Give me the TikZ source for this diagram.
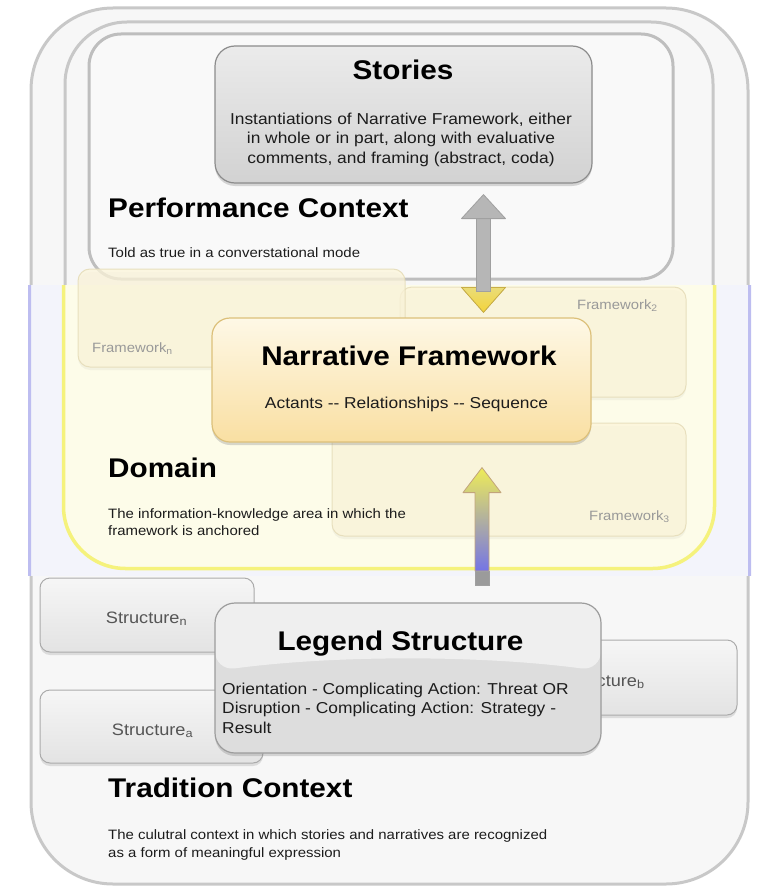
\documentclass[tikz,border=0pt]{standalone}
\usepackage{fontspec}
\setmainfont[FakeStretch=1.1]{Liberation Sans}
\usetikzlibrary{calc,shadows}
\definecolor{outerline}{HTML}{C8C8C8}
\definecolor{outerfill}{HTML}{F7F7F7}
\definecolor{bandtint}{HTML}{F3F4FB}
\definecolor{lavband}{HTML}{BDBDF0}
\definecolor{domline}{HTML}{F5F27C}
\definecolor{domfill}{HTML}{FDFCE9}
\definecolor{perfline}{HTML}{BEBEBE}
\definecolor{perffill}{HTML}{F9F9F9}
\definecolor{fwline}{HTML}{E6DDBA}
\definecolor{fwfill}{HTML}{FCF5DA}
\definecolor{fwtext}{HTML}{999999}
\definecolor{nfline}{HTML}{DCC07A}
\definecolor{nftop}{HTML}{FEF8E6}
\definecolor{nfbot}{HTML}{F9DFA2}
\definecolor{stline}{HTML}{8C8C8C}
\definecolor{sttop}{HTML}{EBEBEB}
\definecolor{stbot}{HTML}{D2D2D2}
\definecolor{sline}{HTML}{ABABAB}
\definecolor{stop}{HTML}{F6F6F6}
\definecolor{sbot}{HTML}{E3E3E3}
\definecolor{legline}{HTML}{9C9C9C}
\definecolor{legfill}{HTML}{DDDDDD}
\definecolor{arrgray}{HTML}{B6B6B6}
\definecolor{arrgrayline}{HTML}{A0A0A0}
\definecolor{arrtan}{HTML}{C2A47C}
\definecolor{arryel}{HTML}{EEEC58}
\definecolor{arrmid}{HTML}{B8B6A2}
\definecolor{arrblue}{HTML}{7474E6}
\definecolor{headyeltop}{HTML}{EADC78}
\definecolor{headyelbot}{HTML}{F4D43A}
\definecolor{headyelline}{HTML}{C9AE46}
\definecolor{txt}{HTML}{1C1C1C}
\definecolor{stxt}{HTML}{555555}
\begin{document}
\begin{tikzpicture}[x=1pt,y=-1pt,
  ctxbox/.style={draw=outerline, line width=3pt, fill=outerfill, inner sep=0pt},
  perfbox/.style={draw=perfline, line width=3pt, fill=perffill, rounded corners=32pt, inner sep=0pt},
  fwbox/.style={draw=fwline, line width=1pt, fill=fwfill, fill opacity=.75, draw opacity=.9, rounded corners=12pt, inner sep=0pt,
    drop shadow={shadow xshift=0pt,shadow yshift=-3pt,opacity=.08}},
  nfbox/.style={draw=nfline, line width=1.2pt, top color=nftop, bottom color=nfbot, rounded corners=18pt, inner sep=0pt,
    drop shadow={shadow xshift=0pt,shadow yshift=-3pt,opacity=.3}},
  storybox/.style={draw=stline, line width=1.2pt, top color=sttop, bottom color=stbot, rounded corners=20pt, inner sep=0pt,
    drop shadow={shadow xshift=0pt,shadow yshift=-3pt,opacity=.3}},
  structbox/.style={draw=sline, line width=1pt, top color=stop, bottom color=sbot, rounded corners=10pt, inner sep=0pt,
    drop shadow={shadow xshift=0pt,shadow yshift=-3pt,opacity=.22}},
  legbox/.style={draw=legline, line width=1.2pt, fill=legfill, rounded corners=20pt, inner sep=0pt,
    drop shadow={shadow xshift=0pt,shadow yshift=-3pt,opacity=.3}},
  heading/.style={font=\fontsize{27}{30}\selectfont\bfseries, text=black, inner sep=0pt},
  bodybig/.style={font=\fontsize{15.8}{19.5}\selectfont, text=txt, inner sep=0pt},
  bodysmall/.style={font=\fontsize{13.6}{17.5}\selectfont, text=txt, inner sep=0pt},
  fwlabel/.style={font=\fontsize{13.5}{16}\selectfont, text=fwtext, inner sep=0pt},
  stlabel/.style={font=\fontsize{16.5}{19}\selectfont, text=stxt, inner sep=0pt}
]
\useasboundingbox (0,0) rectangle (762,888);

% Tradition context (outer)
\node[ctxbox, rounded corners=82pt, minimum width=717, minimum height=876] (trad) at (389.5,446) {};
\begin{scope}
  \clip (0,285) rectangle (762,575);
  \fill[bandtint, rounded corners=82pt] (trad.north west) rectangle (trad.south east);
  \draw[lavband, line width=3pt, rounded corners=82pt] (trad.north west) rectangle (trad.south east);
\end{scope}

% Domain
\node[ctxbox, rounded corners=62pt, minimum width=648, minimum height=545] (dom) at (389,294.5) {};
\begin{scope}
  \clip (0,285) rectangle (762,888);
  \draw[domline, fill=domfill, line width=3.5pt, rounded corners=62pt] (dom.north west) rectangle (dom.south east);
\end{scope}

% Performance context
\node[perfbox, minimum width=584, minimum height=245] (perf) at (381,156.5) {};

% Framework variants
\node[fwbox, minimum width=286, minimum height=110] (fw2) at (543,342) {};
\node[fwbox, minimum width=354, minimum height=113] (fw3) at (509,479.5) {};
\node[fwbox, minimum width=327, minimum height=98] (fwn) at (241.5,318) {};

% Narrative Framework
\node[nfbox, minimum width=379, minimum height=124] (nf) at (401.5,380) {};

% Stories
\node[storybox, minimum width=377, minimum height=137] (stories) at (403.5,114.5) {};

% Double arrow Stories <-> Narrative Framework
\coordinate (sa) at ($(stories.south)+(80,11)$);
\coordinate (sb) at ($(nf.north)+(82,-5)$);
\filldraw[top color=headyeltop, bottom color=headyelbot, draw=headyelline, line width=.8pt, line join=round] (sb) -- ($(sb)+(22,-25)$) -- ($(sb)+(-22,-25)$) -- cycle;
\filldraw[fill=arrgray, draw=arrgrayline, line width=.8pt] ($(sa)+(-7,23)$) rectangle ($(sb)+(7,-21)$);
\filldraw[fill=arrgray, draw=arrgrayline, line width=.8pt, line join=round] (sa) -- ($(sa)+(22,24)$) -- ($(sa)+(-22,24)$) -- cycle;

% Arrow Legend -> Narrative Framework
\coordinate (lt) at ($(nf.south)+(80.5,25)$);
\coordinate (lb) at (482,585);
\path[draw=arrtan, line width=.8pt, line join=round, top color=arryel, middle color=arrmid, bottom color=arrblue]
  (lt) -- ($(lt)+(19,25)$) -- ($(lt)+(7,25)$) -- ($(lb)+(7,-14)$) -- ($(lb)+(-7,-14)$) -- ($(lt)+(-7,25)$) -- ($(lt)+(-19,25)$) -- cycle;
\filldraw[fill=arrgray!85!black, draw=arrgrayline, line width=.8pt] ($(lb)+(-7,-14)$) rectangle ($(lb)+(7,0)$);

% Structures
\node[structbox, minimum width=214, minimum height=74] (stn) at (147,615) {};
\node[structbox, minimum width=223, minimum height=73] (sta) at (151.5,726.5) {};
\node[structbox, minimum width=267, minimum height=75] (stb) at (603.5,677.5) {};
\node[stlabel, anchor=base] (stnl) at (146.5,623) {Structure\textsubscript{n}};
\node[stlabel, anchor=base] (stal) at (152.5,735) {Structure\textsubscript{a}};
\node[stlabel, anchor=base] (stbl) at (604,686) {Structure\textsubscript{b}};

% Legend Structure
\node[legbox, minimum width=386, minimum height=150,
  path picture={\fill[white, opacity=.55] (path picture bounding box.north west) -- (path picture bounding box.north east)
   -- ($(path picture bounding box.north east)+(0,68)$) .. controls +(-120,-16) and +(120,-16) .. ($(path picture bounding box.north west)+(0,68)$) -- cycle;}] (leg) at (408,678) {};

% Texts
\node[heading, anchor=base] (storiest) at (403,80) {Stories};
\node[bodybig, anchor=base, align=center] (storiesb) at (401,163) {Instantiations of Narrative Framework, either\\in whole or in part, along with evaluative\\comments, and framing (abstract, coda)};
\node[heading, anchor=base west] (perft) at (108,217) {Performance Context};
\node[bodysmall, anchor=base west] (perfb) at (108,257) {Told as true in a converstational mode};
\node[fwlabel, anchor=base west] (fw2l) at (577,309) {Framework\textsubscript{2}};
\node[fwlabel, anchor=base west] (fwnl) at (92,352) {Framework\textsubscript{n}};
\node[fwlabel, anchor=base west] (fw3l) at (589,520) {Framework\textsubscript{3}};
\node[heading, anchor=base] (nft) at (409,365) {Narrative Framework};
\node[bodybig, anchor=base] (nfb) at (406.5,408) {Actants -{}- Relationships -{}- Sequence};
\node[heading, anchor=base west] (domt) at (108,477) {Domain};
\node[bodysmall, anchor=base west, align=left] (domb) at (108,535.5) {The information-knowledge area in which the\\framework is anchored};
\node[heading, anchor=base] (legt) at (400.5,650) {Legend Structure};
\node[bodybig, anchor=base west, align=left] (legb) at (222,733) {Orientation - Complicating Action: Threat OR\\Disruption - Complicating Action: Strategy -\\Result};
\node[heading, anchor=base west] (tradt) at (108,797) {Tradition Context};
\node[bodysmall, anchor=base west, align=left] (tradb) at (108,857) {The culutral context in which stories and narratives are recognized\\as a form of meaningful expression};
\end{tikzpicture}
\end{document}
